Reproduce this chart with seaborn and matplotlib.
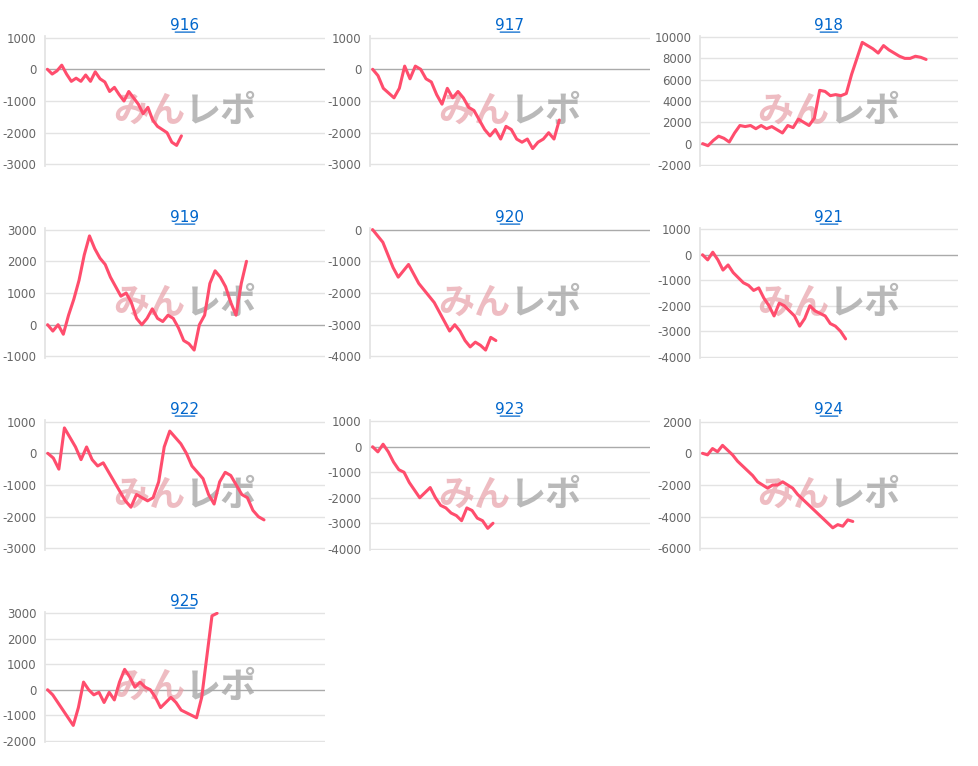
import numpy as np
import pandas as pd
import matplotlib.pyplot as plt
import seaborn as sns

sns.set_theme(style="white")
plt.rcParams["font.family"] = ["DejaVu Sans"]

names = ["916", "917", "918", "919", "920", "921", "922", "923", "924", "925"]

s916 = [0, -150, -50, 130, -150, -380, -280, -380, -180, -380, -80, -300, -400, -700, -570, -800,
        -1000, -700, -900, -1100, -1400, -1200, -1600, -1800, -1900, -2000, -2300, -2400, -2100]
s917 = [0, -200, -600, -750, -900, -600, 100, -300, 100, 0, -300, -400, -800, -1100, -600, -900,
        -700, -900, -1200, -1300, -1600, -1900, -2100, -1900, -2200, -1800, -1900, -2200, -2300,
        -2200, -2500, -2300, -2200, -2000, -2200, -1600]
s918 = [0, -200, 300, 700, 500, 150, 1000, 1700, 1600, 1700, 1400, 1700, 1400, 1600, 1300, 1000,
        1700, 1500, 2300, 2000, 1700, 2400, 5000, 4900, 4500, 4600, 4500, 4700, 6500, 8000, 9500,
        9200, 8900, 8500, 9200, 8800, 8500, 8200, 8000, 8000, 8200, 8100, 7900]
s919 = [0, -200, 0, -300, 300, 800, 1400, 2200, 2800, 2400, 2100, 1900, 1500, 1200, 900, 1000, 700,
        200, 0, 200, 500, 200, 100, 300, 200, -100, -500, -600, -800, 0, 300, 1300, 1700, 1500,
        1200, 700, 300, 1300, 2000]
s920 = [0, -200, -400, -800, -1200, -1500, -1300, -1100, -1400, -1700, -1900, -2100, -2300, -2600,
        -2900, -3200, -3000, -3200, -3500, -3700, -3550, -3650, -3800, -3400, -3500]
s921 = [0, -200, 100, -200, -600, -400, -700, -900, -1100, -1200, -1400, -1300, -1700, -2000, -2400,
        -1900, -2000, -2200, -2400, -2800, -2500, -2000, -2200, -2300, -2400, -2700, -2800, -3000, -3300]
s922 = [0, -150, -500, 800, 500, 200, -200, 200, -200, -400, -300, -600, -900, -1200, -1500, -1700,
        -1300, -1400, -1500, -1400, -900, 200, 700, 500, 300, 0, -400, -600, -800, -1300, -1600,
        -900, -600, -700, -1000, -1300, -1400, -1800, -2000, -2100]
s923 = [0, -200, 100, -200, -600, -900, -1000, -1400, -1700, -2000, -1800, -1600, -2000, -2300,
        -2400, -2600, -2700, -2900, -2400, -2500, -2800, -2900, -3200, -3000]
s924 = [0, -100, 300, 100, 500, 200, -100, -500, -800, -1100, -1400, -1800, -2000, -2200, -2000,
        -2000, -1800, -2000, -2200, -2600, -2900, -3200, -3500, -3800, -4100, -4400, -4700, -4500,
        -4600, -4200, -4300]
s925 = [0, -200, -500, -800, -1100, -1400, -700, 300, 0, -200, -100, -500, -100, -400, 300, 800,
        500, 100, 300, 100, 0, -300, -700, -500, -300, -500, -800, -900, -1000, -1100, -300, 1300,
        2900, 3000]
series = [s916, s917, s918, s919, s920, s921, s922, s923, s924, s925]

y_min = [-3000, -3000, -2000, -1000, -4000, -4000, -3000, -4000, -6000, -2000]
y_max = [1000, 1000, 10000, 3000, 0, 1000, 1000, 1000, 2000, 3000]
y_step = [1000, 1000, 2000, 1000, 1000, 1000, 1000, 1000, 2000, 1000]
x_max = [58, 52, 48, 53, 54, 50, 50, 53, 51, 54]

LINE = "#ff4d6d"
W, H = 979, 766
col_x = [45, 370, 700]
row_y = [36, 228, 420, 612]

fig = plt.figure(figsize=(W / 100, H / 100), dpi=100)
for i, (name, vals) in enumerate(zip(names, series)):
    r, c = divmod(i, 3)
    x0 = col_x[c]
    w = 280 if c < 2 else 258
    ax = fig.add_axes([x0 / W, 1 - (row_y[r] + 130) / H, w / W, 130 / H])
    df = pd.DataFrame({"x": range(len(vals)), "y": vals})
    ticks = np.arange(y_min[i], y_max[i] + 1, y_step[i])
    for t in ticks:
        ax.axhline(t, color="#aaaaaa" if t == 0 else "#e3e3e3", lw=1, zorder=1)
    ax.text(0.5, 0.42, "みん", transform=ax.transAxes, ha="right", va="center",
            fontsize=26, fontweight="bold", style="italic", color="#e8a0a8", alpha=0.7,
            family=["Noto Sans CJK JP"], zorder=2)
    ax.text(0.5, 0.42, "レポ", transform=ax.transAxes, ha="left", va="center",
            fontsize=26, fontweight="bold", style="italic", color="#a8a8a8", alpha=0.8,
            family=["Noto Sans CJK JP"], zorder=2)
    sns.lineplot(data=df, x="x", y="y", ax=ax, color=LINE, lw=2.2, zorder=3)
    ax.set_xlim(-0.5, x_max[i])
    ax.set_ylim(y_min[i] - y_step[i] * 0.05, y_max[i] + y_step[i] * 0.05)
    ax.set_yticks(ticks)
    ax.set_yticklabels([str(int(t)) for t in ticks], fontsize=8.5, color="#666666")
    ax.set_xticks([])
    ax.set_xlabel("")
    ax.set_ylabel("")
    for s in ["top", "right", "bottom"]:
        ax.spines[s].set_visible(False)
    ax.spines["left"].set_color("#e3e3e3")
    ax.tick_params(axis="y", length=4, color="#e3e3e3", pad=2)
    ax.set_title(name, fontsize=11, color="#0066cc", pad=4)
    # underline under the link-style title
    ax.annotate("", xy=(0.545, 1.03), xytext=(0.455, 1.03), xycoords="axes fraction",
                arrowprops=dict(arrowstyle="-", color="#0066cc", lw=0.9))

fig.savefig("out.png", dpi=100)
